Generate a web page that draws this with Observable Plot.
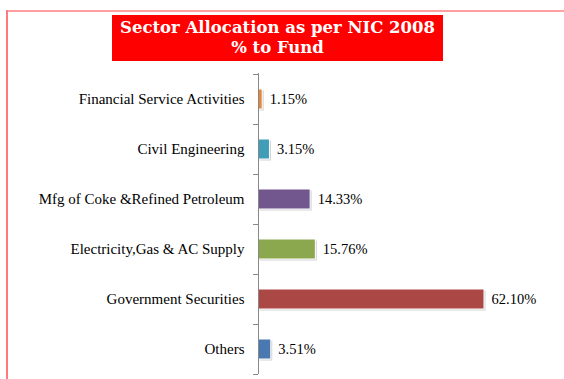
<!DOCTYPE html>
<html>
<head>
<meta charset="utf-8">
<script src="https://cdn.jsdelivr.net/npm/d3@7"></script>
<script src="https://cdn.jsdelivr.net/npm/@observablehq/plot@0.6"></script>
<style>
  html, body { margin: 0; padding: 0; background: #fff; }
  #wrap { position: relative; width: 564px; height: 379px; overflow: hidden; }
  #topline { position: absolute; left: 6px; top: 10px; width: 558px; height: 2px; background: #ff9f9f; }
  #leftline { position: absolute; left: 6px; top: 10px; width: 2px; height: 369px; background: #ff7a7a; }
  #title { position: absolute; left: 112px; top: 15px; width: 331px; height: 46px; background: #ff0000;
    color: #fff; font-family: "DejaVu Serif", serif; font-weight: bold; font-size: 16.5px; line-height: 20px;
    text-align: center; display: flex; flex-direction: column; justify-content: center; }
  #chart { position: absolute; left: 0; top: 0; }
</style>
</head>
<body>
<div id="wrap">
  <div id="topline"></div>
  <div id="leftline"></div>
  <div id="chart"></div>
  <div id="title"><div>Sector Allocation as per NIC 2008</div><div>% to Fund</div></div>
</div>
<script>
const categories = [
  "Financial Service Activities",
  "Civil Engineering",
  "Mfg of Coke &Refined Petroleum",
  "Electricity,Gas & AC Supply",
  "Government Securities",
  "Others"
];
const values = [1.15, 3.15, 14.33, 15.76, 62.10, 3.51];
const colors = ["#e3873d", "#3f9db7", "#72578f", "#8ba84e", "#ab4745", "#4a78b0"];

const data = categories.map((c, i) => ({category: c, value: values[i], color: colors[i]}));

const chart = Plot.plot({
  width: 564,
  height: 379,
  marginLeft: 258,
  marginRight: 80,
  marginTop: 73,
  marginBottom: 5,
  style: {fontFamily: "'Liberation Serif', 'Times New Roman', serif", fontSize: "15px", color: "#000", background: "transparent"},
  x: {domain: [0, 62.10], axis: null},
  y: {domain: categories, paddingInner: 0.6, paddingOuter: 0.3, label: null},
  marks: [
    Plot.barX(data, {y: "category", x: "value", fill: "#d4d4d4", dx: 1.5, dy: 1.5}),
    Plot.barX(data, {y: "category", x: "value", fill: "color", stroke: "#fff", strokeWidth: 1}),
    Plot.text(data, {y: "category", x: "value", text: d => d.value.toFixed(2) + "%", textAnchor: "start", dx: 7, fontSize: 14.5, fill: "#000"}),
    Plot.axisY({tickSize: 0, tickPadding: 14, fontSize: 15, fill: "#000", label: null}),
    Plot.axisY({tickSize: 5, tickFormat: () => "", dy: 25, stroke: "#888", label: null}),
    Plot.axisY({tickSize: 5, tickFormat: () => "", dy: -25, stroke: "#888", label: null}),
    Plot.ruleX([0], {stroke: "#888"})
  ]
});
document.getElementById("chart").appendChild(chart);
</script>
</body>
</html>
